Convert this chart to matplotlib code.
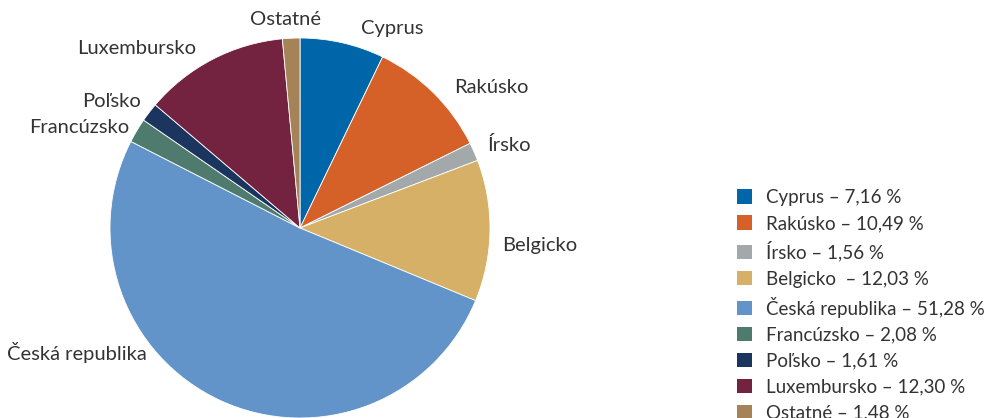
import numpy as np
import matplotlib
matplotlib.use("Agg")
import matplotlib.pyplot as plt
from matplotlib.patches import Patch

plt.rcParams['font.family'] = ['Lato', 'DejaVu Sans']

categories = ["Cyprus", "Rakúsko", "Írsko", "Belgicko", "Česká republika",
              "Francúzsko", "Poľsko", "Luxembursko", "Ostatné"]
values = [7.16, 10.49, 1.56, 12.03, 51.28, 2.08, 1.61, 12.30, 1.48]
legend_labels = ["Cyprus – 7,16 %", "Rakúsko – 10,49 %", "Írsko – 1,56 %",
                 "Belgicko  – 12,03 %", "Česká republika – 51,28 %",
                 "Francúzsko – 2,08 %", "Poľsko – 1,61 %",
                 "Luxembursko – 12,30 %", "Ostatné – 1,48 %"]
colors = ["#0066AA", "#D66128", "#A3A8AB", "#D6B066", "#6294C9",
          "#4F7B6E", "#1B355E", "#73223F", "#A58357"]

# label placement (angle in degrees, radius, horizontal alignment)
label_pos = [(73, 1.10, "left"), (42.3, 1.10, "left"), (23.8, 1.08, "left"),
             (-5, 1.07, "left"), (-140.8, 1.04, "right"), (149.5, 1.04, "right"),
             (141.4, 1.07, "right"), (120, 1.09, "right"), (94, 1.10, "center")]

W, H = 994, 418
fig = plt.figure(figsize=(W / 100, H / 100), dpi=100)
cx, cy, r = 300, 228, 190
ax = fig.add_axes([(cx - r) / W, (H - cy - r) / H, 2 * r / W, 2 * r / H])
wedges, _ = ax.pie(values, colors=colors, startangle=90, counterclock=False,
                   radius=1, wedgeprops=dict(linewidth=0.6, edgecolor="white"))
ax.set_xlim(-1, 1)
ax.set_ylim(-1, 1)
ax.set_aspect("equal")
ax.axis("off")

txt_color = "#333333"
for name, (ang, rr, ha) in zip(categories, label_pos):
    a = np.deg2rad(ang)
    ax.text(rr * np.cos(a), rr * np.sin(a), name, ha=ha, va="center",
            fontsize=14.5, color=txt_color, clip_on=False)

handles = [Patch(facecolor=c, edgecolor="none") for c in colors]
leg = fig.legend(handles, legend_labels, loc="upper left",
                 bbox_to_anchor=(737 / W, 1 - 189 / H), frameon=False,
                 fontsize=13.5, handlelength=0.82, handleheight=0.82,
                 handletextpad=0.75, labelspacing=0.48, borderaxespad=0,
                 borderpad=0)
for t in leg.get_texts():
    t.set_color(txt_color)

fig.savefig("out.png", dpi=100)
